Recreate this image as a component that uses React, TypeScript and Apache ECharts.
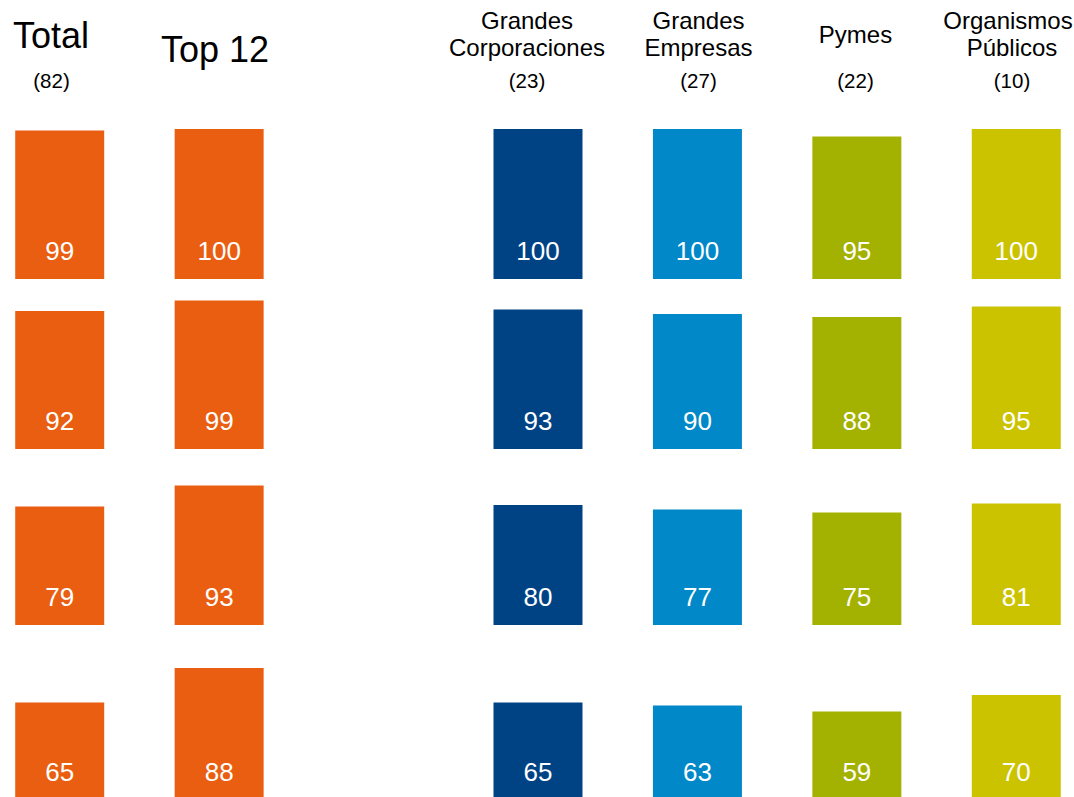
import React, { useEffect, useRef } from "react";
import * as echarts from "echarts";

const categories = ["Total", "Top 12", "", "Grandes Corporaciones", "Grandes Empresas", "Pymes", "Organismos Públicos"];
const counts = ["(82)", "", "", "(23)", "(27)", "(22)", "(10)"];
const row1 = [99, 100, null, 100, 100, 95, 100];
const row2 = [92, 99, null, 93, 90, 88, 95];
const row3 = [79, 93, null, 80, 77, 75, 81];
const row4 = [65, 88, null, 65, 63, 59, 70];
const colors = ["#E95E10", "#E95E10", "#ffffff", "#004385", "#0088C8", "#A3B100", "#CCC300"];

const rows = [row1, row2, row3, row4];
const rowBottoms = [279, 449, 625, 800];

const FONT = "'Liberation Sans', Arial, sans-serif";
const OFF = 20;

export default function App() {
  const ref = useRef<HTMLDivElement>(null);
  useEffect(() => {
    if (!ref.current) return;
    const chart = echarts.init(ref.current, null, { renderer: "svg" });
    const grids = rowBottoms.map((b) => ({ left: 0, right: 0, top: b - 150, height: 150, outerBoundsMode: "none" }));
    const xAxes = rows.map((_, i) => ({
      type: "category",
      gridIndex: i,
      data: categories,
      show: false,
    }));
    const yAxes = rows.map((_, i) => ({
      type: "value",
      gridIndex: i,
      min: 0,
      max: 100,
      show: false,
    }));
    const series = rows.map((r, i) => ({
      type: "bar",
      xAxisIndex: i,
      yAxisIndex: i,
      barWidth: 89,
      data: r.map((v, j) => (v === null ? "-" : { value: v, itemStyle: { color: colors[j] } })),
      label: {
        show: true,
        position: "insideBottom",
        distance: 15,
        color: "#ffffff",
        fontSize: 26,
        fontFamily: FONT,
      },
    }));
    const txt = (text: string, x: number, y: number, fontSize: number) => ({
      type: "text",
      x: x + OFF,
      y,
      style: { text, fontSize, fontFamily: FONT, fill: "#000", align: "center", verticalAlign: "middle" },
    });
    const centers = [51.5, 215, 0, 527, 698.5, 855.5, 1012];
    const graphics: any[] = [
      txt("Total", 51, 35, 36),
      txt("Top 12", 215, 49, 36),
      txt("Grandes", 527, 20, 24),
      txt("Corporaciones", 527, 47, 24),
      txt("Grandes", 698.5, 20, 24),
      txt("Empresas", 698.5, 47, 24),
      txt("Pymes", 855.5, 34, 24),
      txt("Organismos", 1008, 20, 24),
      txt("Públicos", 1012, 47, 24),
    ];
    counts.forEach((c, j) => {
      if (!c) return;
      graphics.push(txt(c, centers[j], 80.5, 20.5));
    });
    chart.setOption({
      animation: false,
      backgroundColor: "#ffffff",
      grid: grids,
      xAxis: xAxes,
      yAxis: yAxes,
      series,
      graphic: graphics,
    } as any);
    return () => chart.dispose();
  }, []);
  return (
    <div style={{ position: "fixed", left: 0, top: 0, width: 1074, height: 797, overflow: "hidden", background: "#fff" }}>
      <div ref={ref} style={{ position: "absolute", left: -OFF, top: 0, width: 1116, height: 810 }} />
    </div>
  );
}
